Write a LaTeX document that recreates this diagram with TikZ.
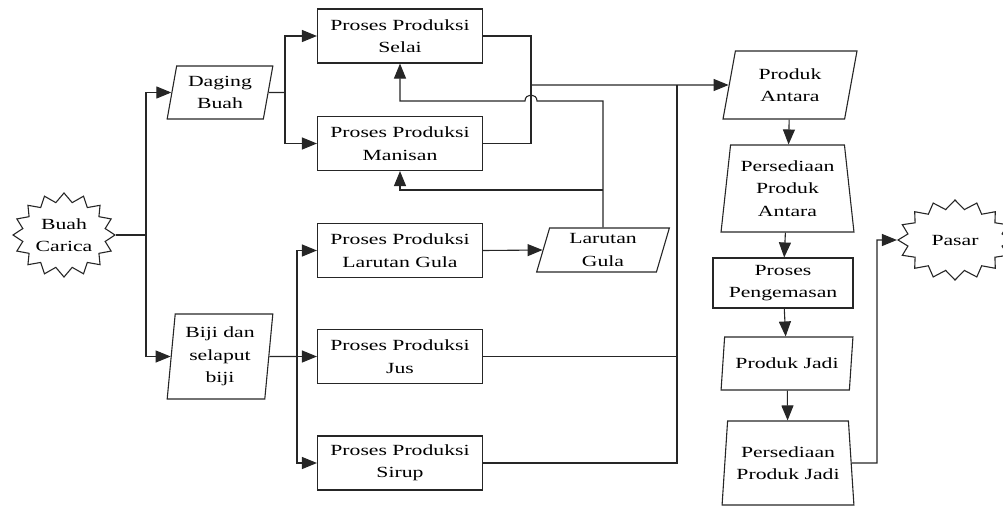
\documentclass[tikz,border=0pt]{standalone}
\usepackage{fontspec}
\setmainfont{Liberation Serif}[FakeStretch=1.4]
\usepackage{tikz}
\usetikzlibrary{shapes.geometric,shapes.symbols,arrows.meta,positioning,calc}

\definecolor{inkgray}{HTML}{262626}

\tikzset{
    base/.style={draw=inkgray, line width=1.1pt, align=center, text=black,
        font=\fontsize{15.5}{22.5}\selectfont, inner sep=0pt},
    proc/.style={base, rectangle, minimum width=165pt, minimum height=54pt},
    data/.style={base, trapezium, trapezium left angle=78, trapezium right angle=102,
        trapezium stretches=true},
    store/.style={base, trapezium, trapezium left angle=82, trapezium right angle=82,
        trapezium stretches=true},
    burst/.style={base, starburst, starburst points=16, starburst point height=9pt,
        random starburst=0},
    flow/.style={draw=inkgray, line width=1.1pt, -{Triangle[length=15pt,width=12pt]}},
    link/.style={draw=inkgray, line width=1.1pt},
}

\begin{document}
\begin{tikzpicture}[x=1pt,y=-1pt]
    \useasboundingbox (0,0) rectangle (1003,506);

    % Sources
    \node[burst, minimum width=102pt, minimum height=84pt] (buah) at (64,235) {Buah\\Carica};
    \node[data, minimum width=106pt, minimum height=53pt] (daging) at (220,92.5) {Daging\\Buah};
    \node[data, trapezium left angle=84, trapezium right angle=96,
        minimum width=106pt, minimum height=85pt] (biji) at (220,356.5) {Biji dan\\selaput\\biji};

    % Production processes
    \node[proc] (selai) at (400,36) {Proses Produksi\\Selai};
    \node[proc] (manisan) at (400,143.5) {Proses Produksi\\Manisan};
    \node[proc] (gulaproc) at (400,250.5) {Proses Produksi\\Larutan Gula};
    \node[proc] (jus) at (400,356.5) {Proses Produksi\\Jus};
    \node[proc] (sirup) at (400,463) {Proses Produksi\\Sirup};
    \node[data, trapezium left angle=76, trapezium right angle=104,
        minimum width=133pt, minimum height=44pt] (gula) at (603,250) {Larutan\\Gula};

    % Right column
    \node[data, minimum width=134pt, minimum height=68pt] (antara) at (790,85) {Produk\\Antara};
    \node[store, minimum width=133pt, minimum height=87pt] (persA) at (787.5,188.5) {Persediaan\\Produk\\Antara};
    \node[proc, minimum width=140pt, minimum height=50pt] (kemas) at (783,283) {Proses\\Pengemasan};
    \node[data, trapezium left angle=75, trapezium right angle=105,
        minimum width=132pt, minimum height=53pt] (jadi) at (787,363.5) {Produk Jadi};
    \node[store, minimum width=132pt, minimum height=84pt] (persJ) at (788,463) {Persediaan\\Produk Jadi};
    \node[burst, minimum width=114pt, minimum height=80pt] (pasar) at (955,240) {Pasar};

    % Junctions
    \coordinate (t1) at (146,235);
    \coordinate (j1) at (285,92.5);
    \coordinate (j2) at (297,356.5);
    \coordinate (j3) at (531,85);
    \coordinate (j4) at (677,85);
    \coordinate (fb1) at (603,101);
    \coordinate (fb2) at (603,190);
    \coordinate (hop1) at (537,101);
    \coordinate (hop2) at (525,101);
    \coordinate (pj) at (877,240);

    % Splitting the fruit
    \draw[link] (buah.east) -- (t1);
    \draw[flow] (t1) |- (daging.west);
    \draw[flow] (t1) |- (biji.west);

    \draw[link] (daging.east) -- (j1);
    \draw[flow] (j1) |- (selai.west);
    \draw[flow] (j1) |- (manisan.west);

    \draw[link] (biji.east) -- (j2);
    \draw[flow] (j2) |- (gulaproc.west);
    \draw[flow] (j2) -- (jus.west);
    \draw[flow] (j2) |- (sirup.west);

    \draw[flow] (gulaproc.east) -- (gula.west);

    % Sugar solution back to selai and manisan
    \draw[flow] (gula.north) -- (fb1) -- (hop1) .. controls (537,93) and (525,93) .. (hop2) -| (selai.south);
    \draw[flow] (fb2) -| (manisan.south);

    % Collect into produk antara
    \draw[link] (selai.east) -| (j3);
    \draw[link] (manisan.east) -| (j3);
    \draw[flow] (j3) -- (antara.west);
    \draw[link] (jus.east) -| (j4);
    \draw[link] (sirup.east) -| (j4);

    % Downstream
    \draw[flow] (antara) -- (persA);
    \draw[flow] (persA) -- (kemas);
    \draw[flow] (kemas) -- (jadi);
    \draw[flow] (jadi) -- (persJ);
    \draw[flow] (persJ.east) -| (pj) -- (pasar.west);

\end{tikzpicture}
\end{document}
